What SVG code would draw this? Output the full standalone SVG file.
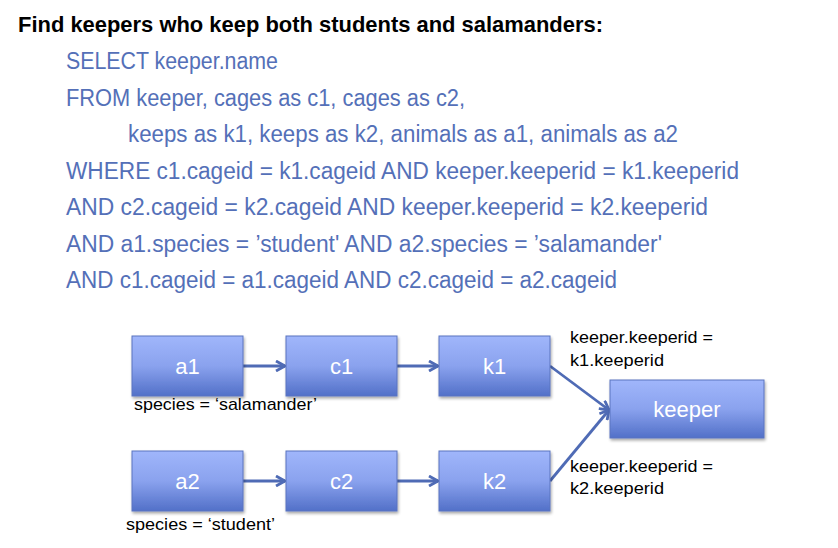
<svg xmlns="http://www.w3.org/2000/svg" width="838" height="548" viewBox="0 0 838 548">
<defs>
<linearGradient id="g" x1="0" y1="0" x2="0" y2="1">
<stop offset="0" stop-color="#a0b6fb"/>
<stop offset="0.5" stop-color="#8aa2ee"/>
<stop offset="1" stop-color="#5270c8"/>
</linearGradient>
<filter id="sh" x="-10%" y="-10%" width="130%" height="140%">
<feGaussianBlur in="SourceAlpha" stdDeviation="1.5"/>
<feOffset dx="1" dy="2" result="b"/>
<feComponentTransfer><feFuncA type="linear" slope="0.35"/></feComponentTransfer>
<feMerge><feMergeNode/><feMergeNode in="SourceGraphic"/></feMerge>
</filter>
<marker id="ah" markerWidth="12" markerHeight="12" refX="10" refY="6" orient="auto" markerUnits="userSpaceOnUse">
<path d="M1,1 L10,6 L1,11" fill="none" stroke="#4f6bb5" stroke-width="2.8"/>
</marker>
</defs>
<style>
.t{font-family:"Liberation Sans",Arial,sans-serif;}
.title{font-size:22px;font-weight:bold;fill:#000;}
.sql{font-size:23.5px;fill:#5470b8;}
.box{fill:url(#g);stroke:#5a75c0;stroke-width:1;filter:url(#sh);}
.nl{font-size:22px;fill:#fff;text-anchor:middle;}
.lb{font-size:17px;fill:#000;}
.cn{stroke:#4f6bb5;stroke-width:2.8;fill:none;marker-end:url(#ah);}
</style>
<rect width="838" height="548" fill="#fff"/>
<g id="text">
<text class="t title" x="18" y="32" textLength="585" lengthAdjust="spacingAndGlyphs">Find keepers who keep both students and salamanders:</text>
<text class="t sql" x="66" y="69" textLength="212" lengthAdjust="spacingAndGlyphs">SELECT keeper.name</text>
<text class="t sql" x="66" y="106" textLength="399" lengthAdjust="spacingAndGlyphs">FROM keeper, cages as c1, cages as c2,</text>
<text class="t sql" x="128" y="142" textLength="550" lengthAdjust="spacingAndGlyphs">keeps as k1, keeps as k2, animals as a1, animals as a2</text>
<text class="t sql" x="66" y="179" textLength="673" lengthAdjust="spacingAndGlyphs">WHERE c1.cageid = k1.cageid AND keeper.keeperid = k1.keeperid</text>
<text class="t sql" x="66" y="215" textLength="642" lengthAdjust="spacingAndGlyphs">AND c2.cageid = k2.cageid AND keeper.keeperid = k2.keeperid</text>
<text class="t sql" x="66" y="252" textLength="596" lengthAdjust="spacingAndGlyphs">AND a1.species = ’student' AND a2.species = ’salamander'</text>
<text class="t sql" x="66" y="288" textLength="551" lengthAdjust="spacingAndGlyphs">AND c1.cageid = a1.cageid AND c2.cageid = a2.cageid</text>
</g>
<g id="connectors">
<line class="cn" x1="243" y1="366" x2="285" y2="366"/>
<line class="cn" x1="397" y1="366" x2="438" y2="366"/>
<line class="cn" x1="550" y1="366" x2="609" y2="410"/>
<line class="cn" x1="243" y1="481" x2="285" y2="481"/>
<line class="cn" x1="397" y1="481" x2="438" y2="481"/>
<line class="cn" x1="550" y1="481" x2="609" y2="410"/>
</g>
<g id="a1"><rect class="box" x="132" y="336" width="111" height="60"/><text class="t nl" x="187.5" y="374">a1</text></g>
<g id="c1"><rect class="box" x="286" y="336" width="111" height="60"/><text class="t nl" x="341.5" y="374">c1</text></g>
<g id="k1"><rect class="box" x="439" y="336" width="111" height="60"/><text class="t nl" x="494.5" y="374">k1</text></g>
<g id="keeper"><rect class="box" x="610" y="380" width="154" height="58"/><text class="t nl" x="687" y="417">keeper</text></g>
<g id="a2"><rect class="box" x="132" y="451" width="111" height="60"/><text class="t nl" x="187.5" y="489">a2</text></g>
<g id="c2"><rect class="box" x="286" y="451" width="111" height="60"/><text class="t nl" x="341.5" y="489">c2</text></g>
<g id="k2"><rect class="box" x="439" y="451" width="111" height="60"/><text class="t nl" x="494.5" y="489">k2</text></g>
<g id="labels">
<text class="t lb" x="134" y="410" textLength="183" lengthAdjust="spacingAndGlyphs">species = ‘salamander’</text>
<text class="t lb" x="126" y="530" textLength="149" lengthAdjust="spacingAndGlyphs">species = ‘student’</text>
<text class="t lb" x="570" y="343" textLength="143" lengthAdjust="spacingAndGlyphs">keeper.keeperid =</text>
<text class="t lb" x="570" y="366" textLength="94" lengthAdjust="spacingAndGlyphs">k1.keeperid</text>
<text class="t lb" x="570" y="472" textLength="143" lengthAdjust="spacingAndGlyphs">keeper.keeperid =</text>
<text class="t lb" x="570" y="494" textLength="94" lengthAdjust="spacingAndGlyphs">k2.keeperid</text>
</g>
</svg>
